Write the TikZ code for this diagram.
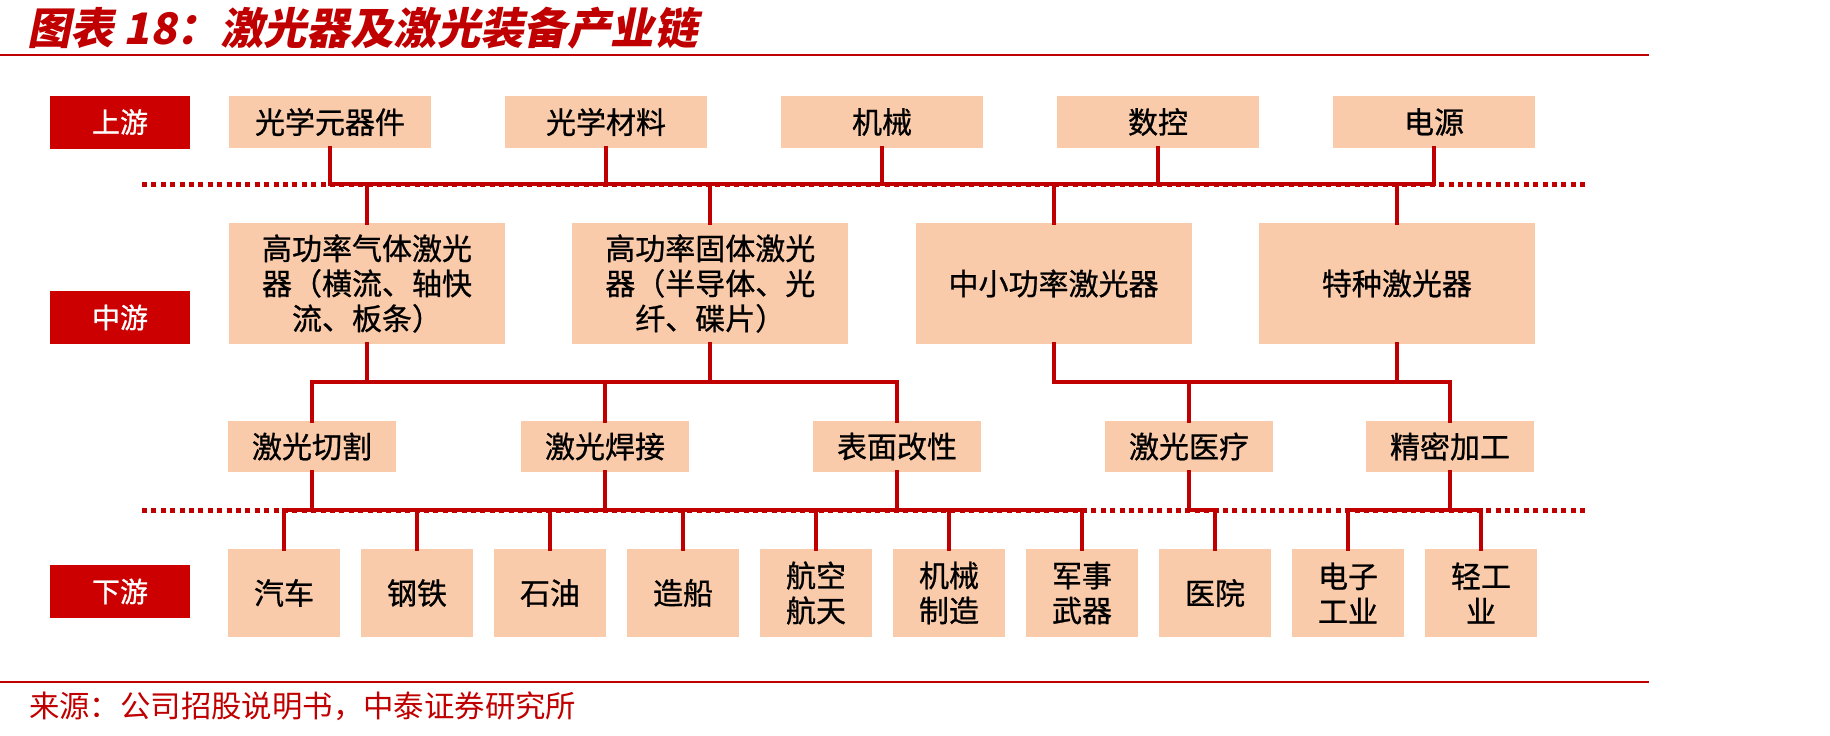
\documentclass[tikz,border=0pt]{standalone}
\usepackage{fontspec}
\setmainfont{Noto Sans CJK SC}
\newfontfamily\cjktitle{Noto Sans CJK SC}[FakeSlant=0.2]
\newfontfamily\cjkbox{Noto Sans CJK SC}[FakeBold=0.8]
\definecolor{chainred}{RGB}{192,0,0}
\definecolor{tagred}{RGB}{204,0,0}
\definecolor{peach}{RGB}{250,203,170}

\begin{document}
\begin{tikzpicture}[
    x=0.5pt, y=-0.5pt,
    tag/.style={fill=tagred, text=white, minimum width=70pt, minimum height=26.5pt,
      inner sep=0pt, font=\cjkbox\fontsize{14}{16}\selectfont},
    box/.style={fill=peach, inner sep=0pt, align=center,
      font=\cjkbox\fontsize{15}{17.5}\selectfont},
    link/.style={draw=chainred, line width=2pt, line cap=rect},
    guide/.style={draw=chainred, line width=2.5pt, dash pattern=on 2.5pt off 2.2pt},
  ]
  \useasboundingbox (0,0) rectangle (1830,735);

  % Title and source
  \node[anchor=west, text=chainred, font=\cjktitle\bfseries\fontsize{21.7}{24}\selectfont]
    (title) at (20,28) {图表 18：激光器及激光装备产业链};
  \draw[chainred, line width=1pt] (0,55) -- (1649,55);
  \draw[chainred, line width=1pt] (0,682) -- (1649,682);
  \node[anchor=west, text=chainred, font=\fontsize{15.2}{18}\selectfont]
    (source) at (22,706) {来源：公司招股说明书，中泰证券研究所};

  % Level tags
  \node[tag] (upTag) at (120,122) {上游};
  \node[tag] (midTag) at (120,317.5) {中游};
  \node[tag] (downTag) at (120,591.5) {下游};

  % Bus levels
  \coordinate (busA) at (0,184);
  \coordinate (busB) at (0,382);
  \coordinate (busC) at (0,510);
  \draw[guide] (142,184) -- (1588,184);
  \draw[guide] (142,510) -- (1588,510);

  % Upstream
  \foreach \itm [count=\i, evaluate={\x=330+276*(\i-1);}] in
    {光学元器件, 光学材料, 机械, 数控, 电源} {
      \node[box, minimum width=101pt, minimum height=26pt] (up\i) at (\x,122) {\itm};
      \draw[link] (up\i.south) -- (up\i.south |- busA);
    }
  \draw[link] (up1.south |- busA) -- (up5.south |- busA);

  % Midstream
  \foreach \itm [count=\i, evaluate={\x=367+343.3*(\i-1);}] in
    {{高功率气体激光\\器（横流、轴快\\流、板条）}, {高功率固体激光\\器（半导体、光\\纤、碟片）},
     中小功率激光器, 特种激光器} {
      \node[box, minimum width=138pt, minimum height=60.5pt] (mid\i) at (\x,283.5) {\itm};
      \draw[link] (mid\i.north |- busA) -- (mid\i.north);
      \draw[link] (mid\i.south) -- (mid\i.south |- busB);
    }

  % Applications
  \foreach \itm/\x [count=\i] in
    {激光切割/312, 激光焊接/605, 表面改性/897, 激光医疗/1189, 精密加工/1450} {
      \node[box, minimum width=84pt, minimum height=25.5pt] (app\i) at (\x,446.5) {\itm};
      \draw[link] (app\i.north |- busB) -- (app\i.north);
      \draw[link] (app\i.south) -- (app\i.south |- busC);
    }
  \draw[link] (app1.north |- busB) -- (app3.north |- busB);
  \draw[link] (mid3.south |- busB) -- (app5.north |- busB);

  % Downstream
  \foreach \itm [count=\i, evaluate={\x=284+133*(\i-1);}] in
    {汽车, 钢铁, 石油, 造船, {航空\\航天}, {机械\\制造}, {军事\\武器}, 医院, {电子\\工业}, {轻工\\业}} {
      \node[box, minimum width=56pt, minimum height=44pt] (down\i) at (\x,593) {\itm};
      \draw[link] (down\i.north |- busC) -- (down\i.north);
    }
  \draw[link] (down1.north |- busC) -- (down7.north |- busC);
  \draw[link] (app4.south |- busC) -- (down8.north |- busC);
  \draw[link] (down9.north |- busC) -- (down10.north |- busC);
\end{tikzpicture}
\end{document}
